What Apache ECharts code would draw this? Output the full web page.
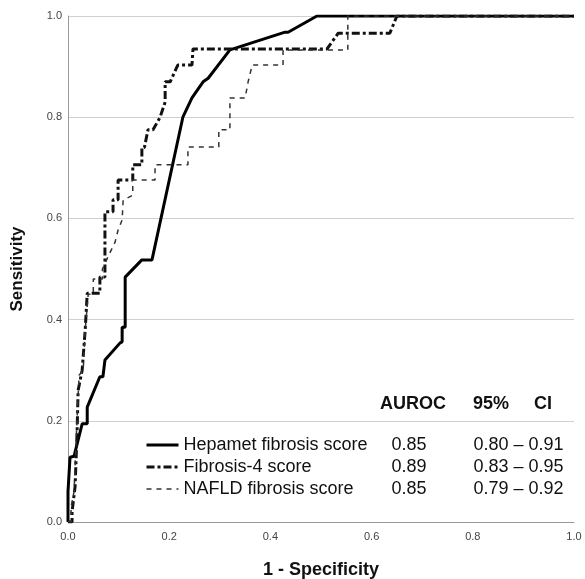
<!DOCTYPE html>
<html>
<head>
<meta charset="utf-8">
<script src="https://cdn.jsdelivr.net/npm/echarts@6/dist/echarts.min.js"></script>
<style>
  html, body { margin: 0; padding: 0; background: #fff; }
  #chart { width: 585px; height: 579px; }
</style>
</head>
<body>
<div id="chart"></div>
<script>
// ROC curves, points are [1 - specificity, sensitivity]
var hepamet = [
  [0, 0], [0, 0.06], [0.004, 0.128], [0.012, 0.13], [0.028, 0.194], [0.038, 0.194],
  [0.038, 0.227], [0.063, 0.287], [0.069, 0.287], [0.073, 0.32], [0.103, 0.354],
  [0.107, 0.356], [0.107, 0.385], [0.113, 0.385], [0.113, 0.484], [0.146, 0.518],
  [0.166, 0.518], [0.227, 0.8], [0.245, 0.838], [0.267, 0.87], [0.277, 0.877],
  [0.32, 0.933], [0.429, 0.968], [0.435, 0.968], [0.492, 1], [1, 1]
]
var fib4 = [
  [0, 0], [0.008, 0], [0.008, 0.02], [0.014, 0.07], [0.018, 0.18], [0.02, 0.26],
  [0.024, 0.28], [0.028, 0.3], [0.034, 0.38], [0.038, 0.452], [0.063, 0.452],
  [0.063, 0.484], [0.073, 0.484], [0.073, 0.613], [0.089, 0.613], [0.089, 0.637],
  [0.099, 0.637], [0.099, 0.676], [0.128, 0.676], [0.128, 0.706], [0.146, 0.706],
  [0.146, 0.74], [0.151, 0.74], [0.158, 0.775], [0.168, 0.775], [0.182, 0.8],
  [0.192, 0.83], [0.192, 0.87], [0.202, 0.87], [0.217, 0.903], [0.245, 0.903],
  [0.247, 0.935], [0.512, 0.935], [0.534, 0.966], [0.636, 0.966], [0.65, 1], [1, 1]
]
var nafld = [
  [0, 0], [0.006, 0], [0.006, 0.03], [0.012, 0.06], [0.016, 0.16], [0.02, 0.25],
  [0.022, 0.29], [0.03, 0.3], [0.034, 0.38], [0.04, 0.45], [0.05, 0.45], [0.05, 0.48],
  [0.068, 0.48], [0.068, 0.5], [0.079, 0.524], [0.093, 0.553], [0.099, 0.577],
  [0.107, 0.597], [0.109, 0.636], [0.128, 0.646], [0.128, 0.676], [0.172, 0.676],
  [0.172, 0.706], [0.237, 0.706], [0.237, 0.741], [0.298, 0.741], [0.298, 0.775],
  [0.32, 0.775], [0.32, 0.838], [0.35, 0.838], [0.356, 0.87], [0.364, 0.903],
  [0.425, 0.903], [0.425, 0.933], [0.553, 0.933], [0.553, 1], [1, 1]
]

var seriesNames = ['Hepamet fibrosis score', 'Fibrosis-4 score', 'NAFLD fibrosis score']
var auroc = ['0.85', '0.89', '0.85']
var ci95 = ['0.80 – 0.91', '0.83 – 0.95', '0.79 – 0.92']
var tableHeaders = ['AUROC', '95%     CI']

var chart = echarts.init(document.getElementById('chart'))
var font = 'Liberation Sans, Arial, sans-serif'

var lineStyles = [
  { color: '#000', width: 3, type: 'solid' },
  { color: '#111', width: 3, type: [8, 3, 3, 3] },
  { color: '#333', width: 1.5, type: [5, 5] }
]

chart.setOption({
  backgroundColor: '#fff',
  animation: false,
  textStyle: { fontFamily: font },
  grid: { left: 68, right: 11, top: 16, bottom: 57, outerBoundsMode: 'none' },
  xAxis: {
    type: 'value',
    min: 0,
    max: 1,
    interval: 0.2,
    name: '1 - Specificity',
    nameLocation: 'middle',
    nameGap: 39,
    nameTextStyle: { fontSize: 18, fontWeight: 'bold', color: '#111' },
    axisLine: { lineStyle: { color: '#999', width: 1 } },
    axisTick: { show: false },
    splitLine: { show: false },
    axisLabel: {
      margin: 9,
      fontSize: 11,
      color: '#444',
      formatter: function (v) { return v.toFixed(1) }
    }
  },
  yAxis: {
    type: 'value',
    min: 0,
    max: 1,
    interval: 0.2,
    name: 'Sensitivity',
    nameLocation: 'middle',
    nameGap: 42,
    nameTextStyle: { fontSize: 17, fontWeight: 'bold', color: '#111' },
    axisLine: { show: true, lineStyle: { color: '#999', width: 1 } },
    axisTick: { show: false },
    splitLine: { lineStyle: { color: '#d0d0d0', width: 1 } },
    axisLabel: {
      margin: 6,
      fontSize: 11,
      color: '#444',
      formatter: function (v) { return v.toFixed(1) }
    }
  },
  legend: {
    orient: 'vertical',
    left: 145,
    top: 435,
    padding: 0,
    itemWidth: 32,
    itemHeight: 14,
    itemGap: 2,
    itemStyle: { opacity: 0 },
    data: seriesNames.map(function (n, i) {
      return { name: n, lineStyle: lineStyles[i] }
    }),
    formatter: function (name) {
      var i = seriesNames.indexOf(name)
      return '{n|' + name + '}{a|' + auroc[i] + '}{c|' + ci95[i] + '}'
    },
    textStyle: {
      fontSize: 18,
      color: '#111',
      lineHeight: 20,
      rich: {
        n: { width: 208, fontSize: 18, color: '#111' },
        a: { width: 82, fontSize: 18, color: '#111' },
        c: { fontSize: 18, color: '#111' }
      }
    }
  },
  graphic: [
    {
      type: 'text', left: 380, top: 395,
      style: { text: tableHeaders[0], font: 'bold 18px ' + font, fill: '#111' }
    },
    {
      type: 'text', left: 473, top: 395,
      style: { text: tableHeaders[1], font: 'bold 18px ' + font, fill: '#111' }
    }
  ],
  series: seriesNames.map(function (n, i) {
    return {
      name: n,
      type: 'line',
      symbol: 'none',
      data: [hepamet, fib4, nafld][i],
      lineStyle: lineStyles[i],
      itemStyle: { color: lineStyles[i].color }
    }
  })
})
</script>
</body>
</html>
